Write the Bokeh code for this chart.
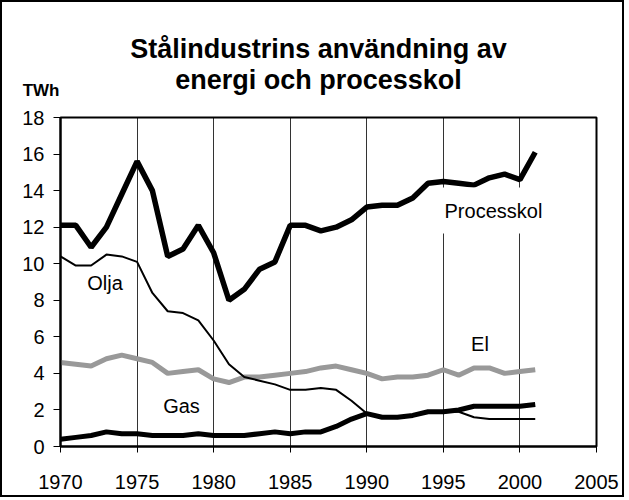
from bokeh.plotting import figure
from bokeh.layouts import column
from bokeh.models import Label, Range1d, SingleIntervalTicker, FixedTicker
from bokeh.embed import file_html
from bokeh.resources import INLINE

years = list(range(1970, 2002))
processkol = [12.1, 12.1, 10.9, 12.0, 13.8, 15.6, 14.0, 10.4, 10.8, 12.1, 10.6, 8.0,
              8.6, 9.7, 10.1, 12.1, 12.1, 11.8, 12.0, 12.4, 13.1, 13.2, 13.2, 13.6,
              14.4, 14.5, 14.4, 14.3, 14.7, 14.9, 14.6, 16.1]
olja = [10.4, 9.9, 9.9, 10.5, 10.4, 10.1, 8.4, 7.4, 7.3, 6.9, 5.8, 4.5,
        3.8, 3.6, 3.4, 3.1, 3.1, 3.2, 3.1, 2.5, 1.8, 1.6, 1.6, 1.7,
        1.9, 1.9, 1.9, 1.6, 1.5, 1.5, 1.5, 1.5]
gas = [0.4, 0.5, 0.6, 0.8, 0.7, 0.7, 0.6, 0.6, 0.6, 0.7, 0.6, 0.6,
       0.6, 0.7, 0.8, 0.7, 0.8, 0.8, 1.1, 1.5, 1.8, 1.6, 1.6, 1.7,
       1.9, 1.9, 2.0, 2.2, 2.2, 2.2, 2.2, 2.3]
el = [4.6, 4.5, 4.4, 4.8, 5.0, 4.8, 4.6, 4.0, 4.1, 4.2, 3.7, 3.5,
      3.8, 3.8, 3.9, 4.0, 4.1, 4.3, 4.4, 4.2, 4.0, 3.7, 3.8, 3.8,
      3.9, 4.2, 3.9, 4.3, 4.3, 4.0, 4.1, 4.2]

title_lines = ["Stålindustrins användning av", "energi och processkol"]
unit_label = "TWh"

FONT = "Liberation Sans"
W = 620
HEAD_H = 100
ML, MR = 58, 26

# header figure holding the title (pixel coordinates inside its frame)
h = figure(width=W, height=HEAD_H, output_backend="svg", toolbar_location=None,
           title=None, x_axis_type=None,
           x_range=Range1d(ML, W - MR), y_range=Range1d(HEAD_H, 0),
           min_border_left=ML, min_border_right=MR, min_border_top=0,
           min_border_bottom=0)
h.outline_line_color = None
h.grid.visible = False
h.background_fill_color = "white"
h.border_fill_color = "white"

ya = h.yaxis[0]
ya.ticker = FixedTicker(ticks=[])
ya.axis_line_color = None
ya.major_tick_line_color = None
ya.minor_tick_line_color = None
ya.axis_label = "\n\n\n" + unit_label
ya.axis_label_orientation = "horizontal"
ya.axis_label_standoff = 1
ya.axis_label_text_font = FONT
ya.axis_label_text_font_size = "17px"
ya.axis_label_text_font_style = "bold"
ya.axis_label_text_color = "black"
ya.axis_label_text_line_height = 1.33

def hlab(x, y, t, **kw):
    opts = dict(text_font=FONT, text_font_size="27px", text_color="black",
                text_align="center", text_baseline="middle",
                text_font_style="bold")
    opts.update(kw)
    h.add_layout(Label(x=x, y=y, text=t, **opts))

hlab(316, 46, title_lines[0])
hlab(316, 77, title_lines[1])

# main chart
p = figure(width=W, height=393, output_backend="svg", toolbar_location=None,
           title=None,
           x_range=Range1d(1970, 2005), y_range=Range1d(0, 18),
           min_border_left=ML, min_border_right=MR, min_border_top=15,
           min_border_bottom=49)
p.background_fill_color = "white"
p.border_fill_color = "white"
p.outline_line_color = "black"
p.outline_line_width = 2

p.xaxis.ticker = SingleIntervalTicker(interval=5)
p.yaxis.ticker = SingleIntervalTicker(interval=2)
p.xaxis.minor_tick_line_color = None
p.yaxis.minor_tick_line_color = None
for ax in (p.xaxis, p.yaxis):
    ax.axis_line_width = 2
    ax.axis_line_color = "black"
    ax.major_tick_line_color = "black"
    ax.major_tick_line_width = 1
    ax.major_tick_in = 0
    ax.major_label_text_font = FONT
    ax.major_label_text_font_size = "20px"
    ax.major_label_text_color = "black"
p.xaxis.major_tick_out = 6
p.yaxis.major_tick_out = 7
p.xaxis.major_label_standoff = 22
p.yaxis.major_label_standoff = 9

p.xgrid.grid_line_color = "black"
p.xgrid.grid_line_width = 1
p.xgrid.grid_line_alpha = 0.8
p.ygrid.visible = False

p.line(years, el, line_color="#999999", line_width=5)
p.line(years, olja, line_color="black", line_width=2)
p.line(years, gas, line_color="black", line_width=5)
p.line(years, processkol, line_color="black", line_width=5.5)

def lab(x, y, t, **kw):
    opts = dict(text_font=FONT, text_font_size="20px", text_color="black",
                text_align="center", text_baseline="middle")
    opts.update(kw)
    p.add_layout(Label(x=x, y=y, text=t, **opts))

lab(1998.27, 12.91, "Processkol", background_fill_color="white", padding=12)
lab(1972.91, 8.97, "Olja")
lab(1977.90, 2.24, "Gas")
lab(1997.39, 5.63, "El")

layout = column(h, p, spacing=0)
layout.styles = {"border": "2px solid black", "background-color": "white"}

open("out.html", "w").write(file_html(layout, INLINE))
